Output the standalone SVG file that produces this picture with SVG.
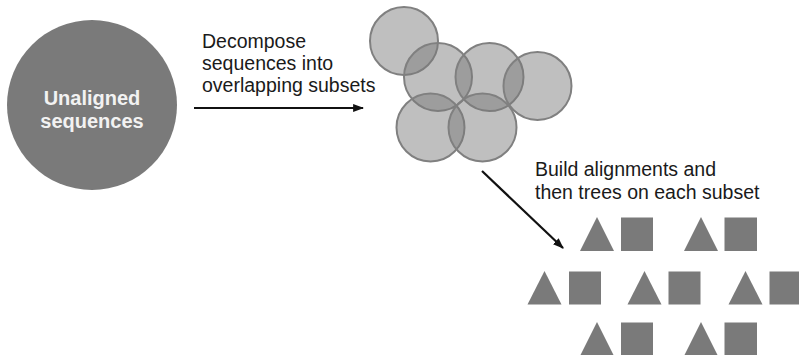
<svg xmlns="http://www.w3.org/2000/svg" width="799" height="355" viewBox="0 0 799 355">
  <style>
    .lbl { font-family: "Liberation Sans", Arial, sans-serif; font-size: 19.5px; fill: #1a1a1a; }
    .title { font-family: "Liberation Sans", Arial, sans-serif; font-size: 20px; font-weight: bold; fill: #f2f2f2; }
    .subset { fill: #7a7a7a; fill-opacity: 0.48; stroke: #808080; stroke-width: 2; }
    .shape { fill: #7a7a7a; }
    .conn { stroke: #111; stroke-width: 2.2; fill: none; }
  </style>
  <defs>
    <marker id="arrow" viewBox="0 0 10 10" refX="9" refY="5" markerWidth="5" markerHeight="5" orient="auto" markerUnits="strokeWidth">
      <path d="M0,1.3 L10,5 L0,8.7 Z" fill="#111"/>
    </marker>
  </defs>
  <rect width="799" height="355" fill="#ffffff"/>

  <!-- input sequences -->
  <g id="unaligned">
    <circle cx="92" cy="105" r="85" fill="#7a7a7a"/>
    <text class="title" x="92" y="105" text-anchor="middle">Unaligned</text>
    <text class="title" x="92" y="128" text-anchor="middle">sequences</text>
  </g>

  <!-- overlapping subsets -->
  <g id="subsets">
    <circle class="subset" cx="404" cy="41" r="34"/>
    <circle class="subset" cx="438" cy="77" r="34"/>
    <circle class="subset" cx="489.5" cy="77" r="34"/>
    <circle class="subset" cx="537.5" cy="86" r="34"/>
    <circle class="subset" cx="430.5" cy="127.5" r="34"/>
    <circle class="subset" cx="482.5" cy="127.5" r="34"/>
  </g>

  <!-- alignment (triangle) + tree (square) for each subset -->
  <g id="results">
    <g id="pair1"><polygon class="shape" points="580,251 614,251 597,217"/><rect class="shape" x="621" y="217.5" width="32" height="33.5"/></g>
    <g id="pair2"><polygon class="shape" points="684,251 718,251 701,217"/><rect class="shape" x="724.5" y="217.5" width="32.5" height="33.5"/></g>
    <g id="pair3"><polygon class="shape" points="527.5,304.5 561.5,304.5 544.5,271"/><rect class="shape" x="569" y="271.5" width="32" height="33"/></g>
    <g id="pair4"><polygon class="shape" points="627.5,304.5 661.5,304.5 644.5,271"/><rect class="shape" x="668.5" y="271.5" width="32" height="33"/></g>
    <g id="pair5"><polygon class="shape" points="728.5,304.5 762.5,304.5 745.5,271"/><rect class="shape" x="769.5" y="271.5" width="32" height="33"/></g>
    <g id="pair6"><polygon class="shape" points="580,356 614,356 597,322"/><rect class="shape" x="621" y="322.5" width="32" height="34"/></g>
    <g id="pair7"><polygon class="shape" points="684,356 718,356 701,322"/><rect class="shape" x="724.5" y="322.5" width="32.5" height="34"/></g>
  </g>

  <!-- connectors -->
  <g id="connectors">
    <line class="conn" x1="194" y1="108" x2="363" y2="108" marker-end="url(#arrow)"/>
    <line class="conn" x1="482" y1="171" x2="563" y2="248" marker-end="url(#arrow)"/>
  </g>

  <!-- step labels -->
  <g id="step1-label">
    <text class="lbl" x="202" y="47.5">Decompose</text>
    <text class="lbl" x="202" y="69.5">sequences into</text>
    <text class="lbl" x="202" y="91.5">overlapping subsets</text>
  </g>
  <g id="step2-label">
    <text class="lbl" x="535" y="176">Build alignments and</text>
    <text class="lbl" x="535" y="199">then trees on each subset</text>
  </g>
</svg>
